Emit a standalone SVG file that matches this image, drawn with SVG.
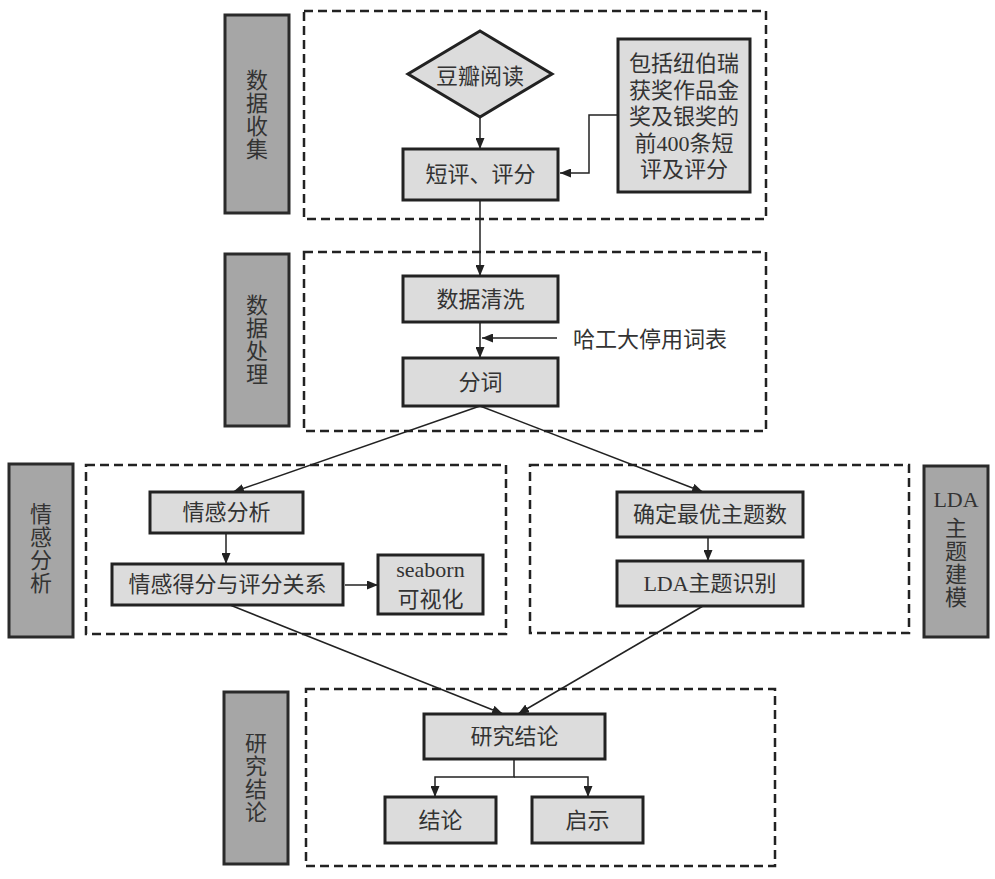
<svg xmlns="http://www.w3.org/2000/svg" width="995" height="879" viewBox="0 0 995 879">
<defs>
<style>
.bg{fill:#ffffff}
.dash{fill:none;stroke:#222;stroke-width:2.5;stroke-dasharray:9 5}
.lab{fill:#a6a6a6;stroke:#2a2a2a;stroke-width:3}
.node{fill:#dcdcdc;stroke:#222;stroke-width:3}
.t{font-family:"Liberation Serif","Noto Sans CJK SC",serif;font-size:22px;fill:#333;text-anchor:middle;dominant-baseline:central}
.c{fill:none;stroke:#222;stroke-width:1.5}
</style>
<marker id="ah" markerUnits="userSpaceOnUse" markerWidth="11" markerHeight="9" refX="11" refY="4.5" orient="auto">
<path d="M0,0 L11,4.5 L0,9 z" fill="#222"/>
</marker>
</defs>
<rect class="bg" x="0" y="0" width="995" height="879"/>

<g id="sections">
<rect class="dash" x="304" y="11" width="462" height="208"/>
<rect class="dash" x="304" y="252" width="462" height="179"/>
<rect class="dash" x="86" y="465" width="420" height="169"/>
<rect class="dash" x="530" y="465" width="379" height="168"/>
<rect class="dash" x="306" y="689" width="469" height="177"/>
</g>

<g id="label-collect">
<rect class="lab" x="225" y="15" width="64" height="198"/>
<text class="t"><tspan x="257" y="80">数</tspan><tspan x="257" y="103">据</tspan><tspan x="257" y="126">收</tspan><tspan x="257" y="149">集</tspan></text>
</g>
<g id="label-process">
<rect class="lab" x="225" y="254" width="64" height="172"/>
<text class="t"><tspan x="257" y="305">数</tspan><tspan x="257" y="328">据</tspan><tspan x="257" y="351">处</tspan><tspan x="257" y="374">理</tspan></text>
</g>
<g id="label-sentiment">
<rect class="lab" x="9" y="464" width="64" height="173"/>
<text class="t"><tspan x="41" y="514">情</tspan><tspan x="41" y="537">感</tspan><tspan x="41" y="560">分</tspan><tspan x="41" y="583">析</tspan></text>
</g>
<g id="label-lda">
<rect class="lab" x="924" y="466" width="64" height="171"/>
<text class="t"><tspan x="956" y="499">LDA</tspan><tspan x="956" y="528">主</tspan><tspan x="956" y="551">题</tspan><tspan x="956" y="574">建</tspan><tspan x="956" y="597">模</tspan></text>
</g>
<g id="label-result">
<rect class="lab" x="224" y="692" width="64" height="172"/>
<text class="t"><tspan x="256" y="743">研</tspan><tspan x="256" y="766">究</tspan><tspan x="256" y="789">结</tspan><tspan x="256" y="812">论</tspan></text>
</g>

<g id="connectors">
<line class="c" x1="480" y1="117" x2="480" y2="149" marker-end="url(#ah)"/>
<polyline class="c" points="618,115 589,115 589,173 560,173" marker-end="url(#ah)"/>
<line class="c" x1="480" y1="200" x2="480" y2="276" marker-end="url(#ah)"/>
<line class="c" x1="480" y1="322" x2="480" y2="358" marker-end="url(#ah)"/>
<line class="c" x1="557" y1="338" x2="482" y2="338" marker-end="url(#ah)"/>
<line class="c" x1="480" y1="406" x2="233" y2="492" marker-end="url(#ah)"/>
<line class="c" x1="480" y1="406" x2="703" y2="492" marker-end="url(#ah)"/>
<line class="c" x1="226" y1="533" x2="226" y2="564" marker-end="url(#ah)"/>
<line class="c" x1="345" y1="585" x2="378" y2="585" marker-end="url(#ah)"/>
<line class="c" x1="708" y1="537" x2="708" y2="561" marker-end="url(#ah)"/>
<line class="c" x1="230" y1="605" x2="503" y2="714" marker-end="url(#ah)"/>
<line class="c" x1="703" y1="606" x2="518" y2="714" marker-end="url(#ah)"/>
<polyline class="c" points="514,759 514,777 435,777 435,797" marker-end="url(#ah)"/>
<polyline class="c" points="514,777 588,777 588,797" marker-end="url(#ah)"/>
</g>

<g id="douban">
<polygon class="node" points="480,31 552,74 480,117 408,74"/>
<text class="t" x="480" y="76">豆瓣阅读</text>
</g>
<g id="note">
<rect class="node" x="618" y="39" width="132" height="153"/>
<text class="t"><tspan x="684" y="63">包括纽伯瑞</tspan><tspan x="684" y="89.5">获奖作品金</tspan><tspan x="684" y="116">奖及银奖的</tspan><tspan x="684" y="142.5">前400条短</tspan><tspan x="684" y="169">评及评分</tspan></text>
</g>
<g id="reviews">
<rect class="node" x="403" y="149" width="155" height="51"/>
<text class="t" x="480.5" y="174.5">短评、评分</text>
</g>
<g id="clean">
<rect class="node" x="403" y="276" width="155" height="46"/>
<text class="t" x="480.5" y="299">数据清洗</text>
</g>
<g id="stopwords">
<text class="t" x="650" y="339">哈工大停用词表</text>
</g>
<g id="segment">
<rect class="node" x="403" y="358" width="155" height="48"/>
<text class="t" x="480.5" y="382">分词</text>
</g>
<g id="sentiment">
<rect class="node" x="150" y="492" width="153" height="41"/>
<text class="t" x="226.5" y="512.5">情感分析</text>
</g>
<g id="score-relation">
<rect class="node" x="112" y="564" width="231" height="41"/>
<text class="t" x="227.5" y="584.5">情感得分与评分关系</text>
</g>
<g id="seaborn">
<rect class="node" x="378" y="555" width="105" height="59"/>
<text class="t"><tspan x="430.5" y="569">seaborn</tspan><tspan x="430.5" y="599">可视化</tspan></text>
</g>
<g id="topic-num">
<rect class="node" x="617" y="492" width="186" height="45"/>
<text class="t" x="710" y="514.5">确定最优主题数</text>
</g>
<g id="lda-topic">
<rect class="node" x="617" y="561" width="186" height="45"/>
<text class="t" x="710" y="583.5">LDA主题识别</text>
</g>
<g id="research">
<rect class="node" x="424" y="714" width="181" height="45"/>
<text class="t" x="514.5" y="736.5">研究结论</text>
</g>
<g id="conclusion">
<rect class="node" x="385" y="797" width="111" height="46"/>
<text class="t" x="440.5" y="820">结论</text>
</g>
<g id="insight">
<rect class="node" x="532" y="797" width="111" height="46"/>
<text class="t" x="587.5" y="820">启示</text>
</g>
</svg>
